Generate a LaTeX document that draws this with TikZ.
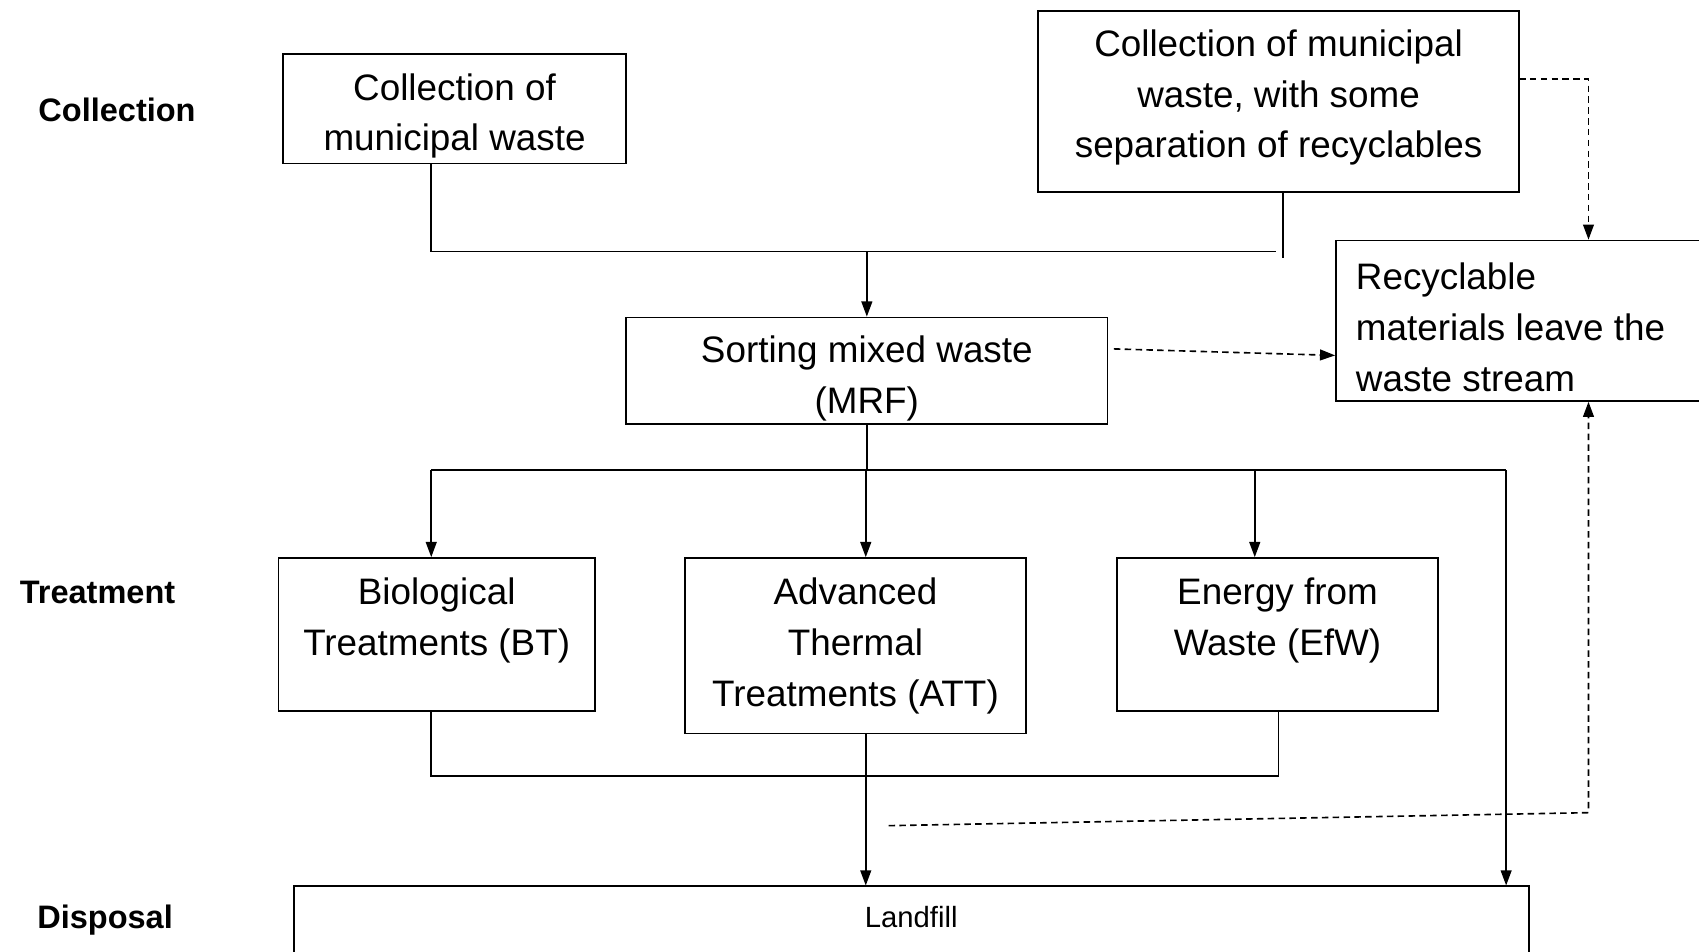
\documentclass[tikz,border=0pt]{standalone}
\usepackage{fontspec}
\setmainfont{Liberation Sans}
\usetikzlibrary{arrows.meta,fit}
\begin{document}
\begin{tikzpicture}[x=0.5pt,y=-0.5pt,
  box/.style={draw,line width=0.8pt,inner sep=0pt},
  txt/.style={font=\fontsize{17}{23.5}\selectfont,align=center,inner sep=0pt},
  lab/.style={font=\fontsize{15}{18}\selectfont\bfseries,inner sep=0pt},
  ln/.style={line width=0.75pt},
  arr/.style={ln,-{Triangle[length=7pt,width=5pt]}},
  darr/.style={arr,dash pattern=on 3pt off 2pt},
]
\useasboundingbox (0,0) rectangle (1568,878);

% row labels
\node[lab] (lcol) at (108,101) {Collection};
\node[lab] (ltre) at (90,547) {Treatment};
\node[lab] (ldis) at (97,849) {Disposal};

% boxes
\node[box,fit={(261,50)(578,151)}] (c1) {};
\node[txt] (c1t) at (419.5,107) {Collection of\\municipal waste};

\node[box,fit={(958,10)(1402,177)}] (c2) {};
\node[txt] (c2t) at (1180,90) {Collection of municipal\\waste, with some\\separation of recyclables};

\node[box,fit={(1233,222)(1590,370)}] (rec) {};
\node[txt,align=left,anchor=west] (rect) at (1251,302) {Recyclable\\materials leave the\\waste stream};

\node[box,fit={(578,293)(1022,391)}] (sort) {};
\node[txt] (sortt) at (800,349.5) {Sorting mixed waste\\(MRF)};

\node[box,fit={(257,515)(549,656)}] (bt) {};
\node[txt] (btt) at (403,573) {Biological\\Treatments (BT)};

\node[box,fit={(632,515)(947,677)}] (att) {};
\node[txt] (attt) at (789.5,596) {Advanced\\Thermal\\Treatments (ATT)};

\node[box,fit={(1031,515)(1327,656)}] (efw) {};
\node[txt] (efwt) at (1179,573) {Energy from\\Waste (EfW)};

\node[box,fit={(271,818)(1411,900)}] (land) {};
\node[inner sep=0pt,font=\fontsize{13.5}{16}\selectfont] (landt) at (841,846) {Landfill};

% collection -> sorting
\coordinate (jL) at (398,232);
\coordinate (jR) at (1178,232);
\coordinate (jM) at (800,232);
\coordinate (b2e) at (1184,238);
\draw[ln] (c1.south -| jL) -- (jL) -- (jR);
\draw[ln] (c2.south -| b2e) -- (b2e);
\draw[arr] (jM) -- (sort.north);

% sorting -> treatments
\coordinate (s1) at (800,434);
\coordinate (t1) at (398,434);
\coordinate (t2) at (799,434);
\coordinate (t3) at (1158,434);
\coordinate (t4) at (1390,434);
\draw[ln] (sort.south) -- (s1);
\draw[ln] (t1) -- (t4);
\draw[arr] (t1) -- (bt.north -| t1);
\draw[arr] (t2) -- (att.north -| t2);
\draw[arr] (t3) -- (efw.north -| t3);
\draw[arr] (t4) -- (land.north -| t4);

% treatments -> landfill
\coordinate (u1) at (398,716);
\coordinate (u2) at (1180,716);
\coordinate (u3) at (799,716);
\draw[ln] (bt.south -| u1) -- (u1) -- (u2) -- (efw.south -| u2);
\draw[arr] (att.south -| u3) -- (land.north -| u3);

% recycling dashed flows
\coordinate (d1) at (1028,322);
\coordinate (d2) at (1233,328);
\draw[darr] (d1) -- (rec.west |- d2);

\coordinate (r1) at (1402,73);
\coordinate (r2) at (1466,73);
\draw[darr] (r1) -- (r2) -- (rec.north -| r2);

\coordinate (q1) at (820,762);
\coordinate (q2) at (1466,750);
\draw[darr] (q1) -- (q2) -- (rec.south -| q2);
\end{tikzpicture}
\end{document}
